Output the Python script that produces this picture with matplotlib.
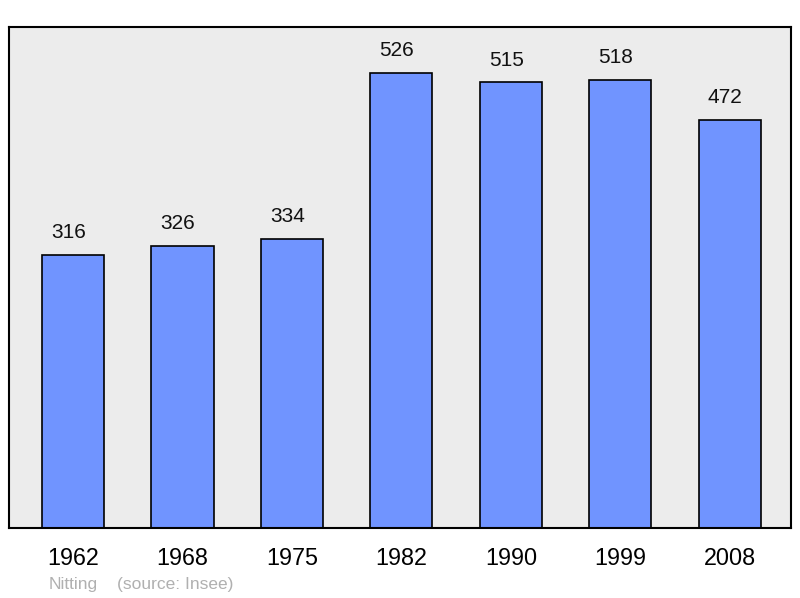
import numpy as np
import matplotlib.pyplot as plt

plt.rcParams['font.family'] = ['Liberation Sans', 'DejaVu Sans']

years = ['1962', '1968', '1975', '1982', '1990', '1999', '2008']
population = [316, 326, 334, 526, 515, 518, 472]

fig = plt.figure(figsize=(8, 5.98), dpi=100)
ax = fig.add_axes([9 / 800, 70 / 598, 782 / 800, 501 / 598])
ax.set_facecolor('#ececec')

x = np.arange(len(years))
ax.bar(x, population, width=0.567, color='#7094ff', edgecolor='black', linewidth=1.2, zorder=2)

# value labels sit a little left of the bar centre in the original
for xi, v in zip(x, population):
    ax.text(xi - 0.04, v + 25.5, str(v), ha='center', va='center', fontsize=15, color='#111111')

ax.set_xlim(-0.585, 6.56)
ax.set_ylim(0, 579)
ax.set_yticks([])
ax.set_xticks(x)
ax.set_xticklabels(years, fontsize=16.8)
ax.tick_params(axis='x', length=0, pad=14)
for s in ax.spines.values():
    s.set_linewidth(1.5)

fig.text(49 / 800, 1 - 584 / 598, 'Nitting', fontsize=12.5, color='#b0b0b0', va='center')
fig.text(117 / 800, 1 - 584 / 598, '(source: Insee)', fontsize=12.5, color='#b0b0b0', va='center')

fig.savefig('out.png', dpi=100)
